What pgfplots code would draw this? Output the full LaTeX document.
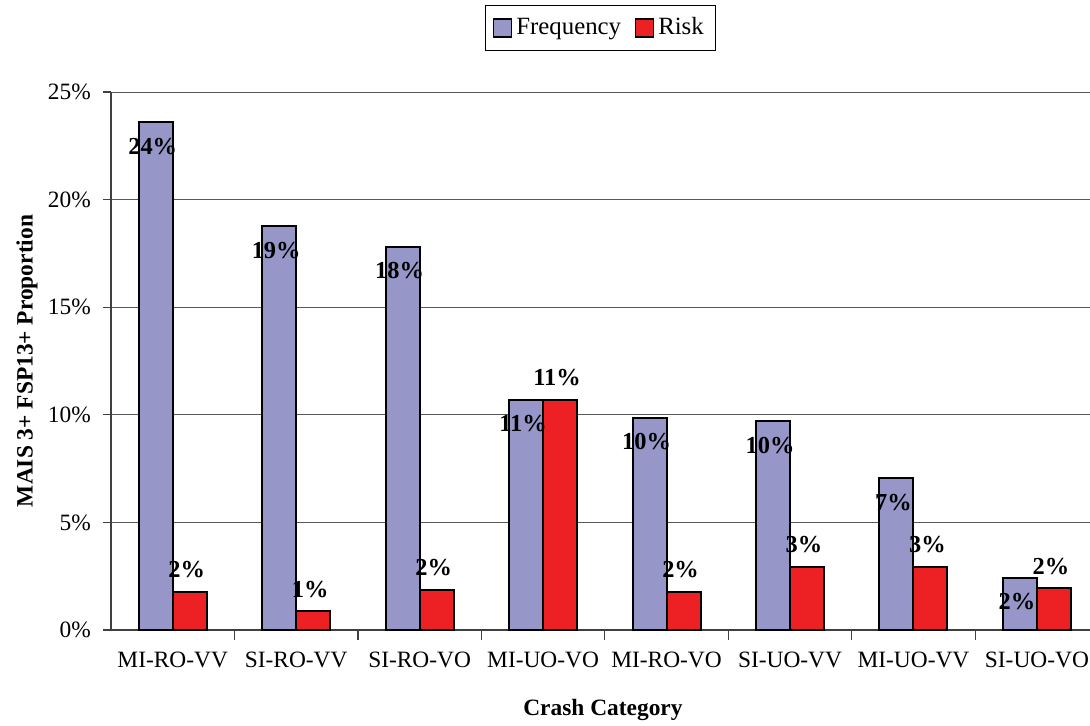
\documentclass[border=0pt]{standalone}
\usepackage{fontspec}
\setmainfont{Liberation Serif}
\usepackage{pgfplots}
\pgfplotsset{compat=1.18}

\definecolor{freqc}{RGB}{150,150,200}
\definecolor{riskc}{RGB}{237,32,36}

\begin{document}
\fontsize{11.7}{14}\selectfont
\begin{tikzpicture}
\useasboundingbox (-55.5pt,-47.5pt) rectangle (489.5pt,315pt);
\begin{axis}[
    scale only axis,
    width=489.5pt, height=269pt,
    ybar=0pt, bar width=17pt,
    xmin=-0.5, xmax=7.43,
    ymin=0, ymax=25,
    axis x line*=bottom, axis y line*=left,
    axis line style={black!75, line width=0.6pt},
    xtick={0,...,7},
    xticklabels={MI-RO-VV,SI-RO-VV,SI-RO-VO,MI-UO-VO,MI-RO-VO,SI-UO-VV,MI-UO-VV,SI-UO-VO},
    major x tick style={draw=none},
    minor xtick={0.5,1.5,...,6.5},
    minor tick length=5pt,
    minor x tick style={black!75, line width=0.6pt},
    ytick={0,5,...,25},
    yticklabels={0\%,5\%,10\%,15\%,20\%,25\%},
    major tick length=4pt,
    tick align=outside,
    y tick style={black!75, line width=0.6pt},
    ymajorgrids,
    grid style={black!65, line width=0.5pt},
    tick label style={font=\fontsize{11.7}{14}\selectfont},
    xticklabel style={yshift=-3pt},
    yticklabel style={xshift=-2pt},
    xlabel={\textbf{Crash Category}},
    ylabel={\textbf{MAIS 3+ FSP13+ Proportion}},
    label style={font=\fontsize{14.2}{17}\selectfont},
    every axis x label/.style={at={(axis description cs:0.5025,-0.1487)}, anchor=center},
    every axis y label/.style={at={(axis description cs:-0.0858,0.5)}, rotate=90, anchor=center},
    clip=false,
    legend columns=2,
    legend style={at={(axis description cs:0.5,1.119)}, anchor=center,
        draw=black, line width=0.6pt, inner xsep=4pt, inner ysep=4pt,
        font=\fontsize{12.4}{15}\selectfont,
        /tikz/every even column/.append style={column sep=5pt}},
    legend image code/.code={\draw[#1, line width=0.6pt] (0pt,-4.5pt) rectangle (9pt,4.5pt);},
    nodes near coords={\bfseries\pgfmathprintnumber[fixed,precision=0,assume math mode=true]{\pgfplotspointmeta}\%},
    nodes near coords style={font=\fontsize{12.2}{14}\selectfont, inner sep=0pt},
]
% Frequency: labels sit just inside the top of the bar
\addplot[fill=freqc, draw=black, line width=1pt, mark=none,
    every node near coord/.append style={anchor=center, xshift=-1.5pt, yshift=-12pt}]
    coordinates {(0,23.6) (1,18.77) (2,17.8) (3,10.69) (4,9.85) (5,9.71) (6,7.06) (7,2.42)};
% Risk: labels above the bar
\addplot[fill=riskc, draw=black, line width=1pt, mark=none,
    every node near coord/.append style={anchor=center, xshift=-1.5pt, yshift=11pt}]
    coordinates {(0,1.77) (1,0.88) (2,1.86) (3,10.69) (4,1.77) (5,2.93) (6,2.93) (7,1.95)};
\legend{Frequency, Risk}
\end{axis}
\end{tikzpicture}
\end{document}
